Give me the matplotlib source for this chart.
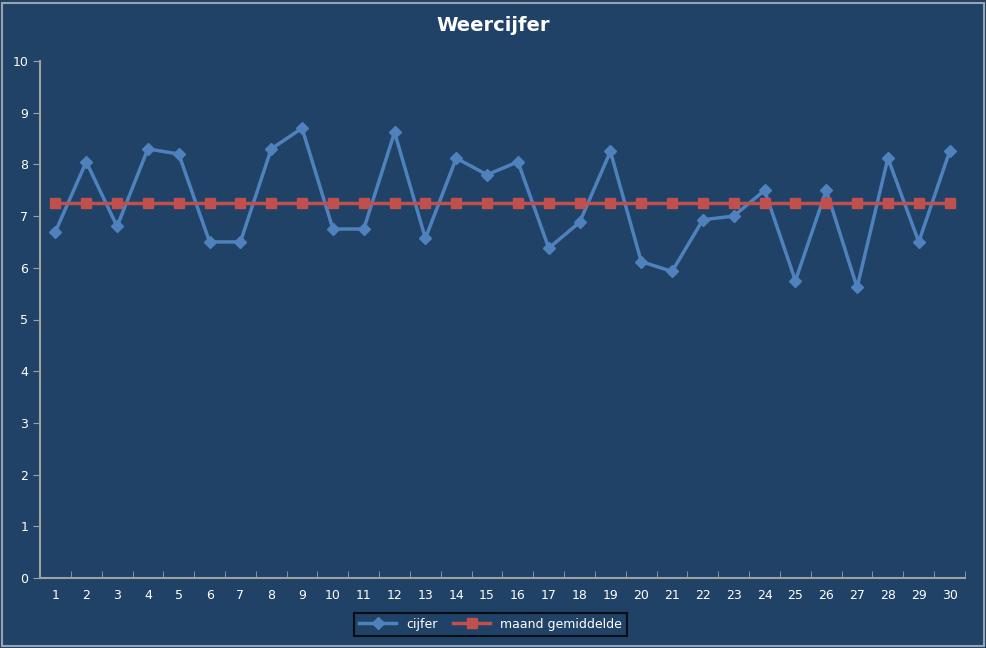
import matplotlib.pyplot as plt
import numpy as np

days = list(range(1, 31))
cijfer = [6.7, 8.05, 6.8, 8.3, 8.2, 6.5, 6.5, 8.3, 8.7, 6.75,
          6.75, 8.62, 6.57, 8.12, 7.8, 8.05, 6.38, 6.88, 8.25, 6.12,
          5.93, 6.93, 7.0, 7.5, 5.75, 7.5, 5.62, 8.12, 6.5, 8.25]
gemiddelde = [7.25] * 30

bg = "#1f4266"
fig = plt.figure(figsize=(9.87, 6.48), dpi=100)
fig.patch.set_facecolor(bg)
fig.patches.append(plt.Rectangle((0.002, 0.003), 0.995, 0.993, transform=fig.transFigure,
                                 fill=False, edgecolor="#9aa4ae", linewidth=1.5))
ax = fig.add_axes([40 / 987, 1 - 578 / 648, 925 / 987, 517 / 648])
ax.set_facecolor(bg)

ax.plot(days, cijfer, color="#4f81bd", linewidth=2.5, marker="D", markersize=6,
        label="cijfer")
ax.plot(days, gemiddelde, color="#c0504d", linewidth=2.5, marker="s", markersize=7,
        label="maand gemiddelde")

ax.set_xlim(0.5, 30.5)
ax.set_ylim(0, 10)
ax.set_xticks(days)
ax.set_yticks(range(0, 11))
ax.set_xticks(np.arange(0.5, 31, 1), minor=True)
ax.tick_params(axis="x", which="major", length=0, colors="white", labelsize=9, pad=8)
ax.tick_params(axis="x", which="minor", length=5, color="#a0a0a0", direction="in")
ax.tick_params(axis="y", length=5, color="#a0a0a0", colors="white", labelsize=9, direction="out")
for s in ["top", "right"]:
    ax.spines[s].set_visible(False)
for s in ["left", "bottom"]:
    ax.spines[s].set_color("#a0a0a0")
    ax.spines[s].set_linewidth(1.5)

fig.text(0.5, 0.952, "Weercijfer", ha="center", color="white", fontsize=14, fontweight="bold")

leg = fig.legend(loc="center", bbox_to_anchor=(0.497, 0.037), ncol=2, frameon=True,
                 fontsize=9, handlelength=3, columnspacing=1.2, fancybox=False,
                 borderpad=0.4)
leg.get_frame().set_facecolor(bg)
leg.get_frame().set_edgecolor("black")
leg.get_frame().set_linewidth(1.5)
for t in leg.get_texts():
    t.set_color("white")

fig.savefig("out.png", dpi=100, facecolor=bg)
